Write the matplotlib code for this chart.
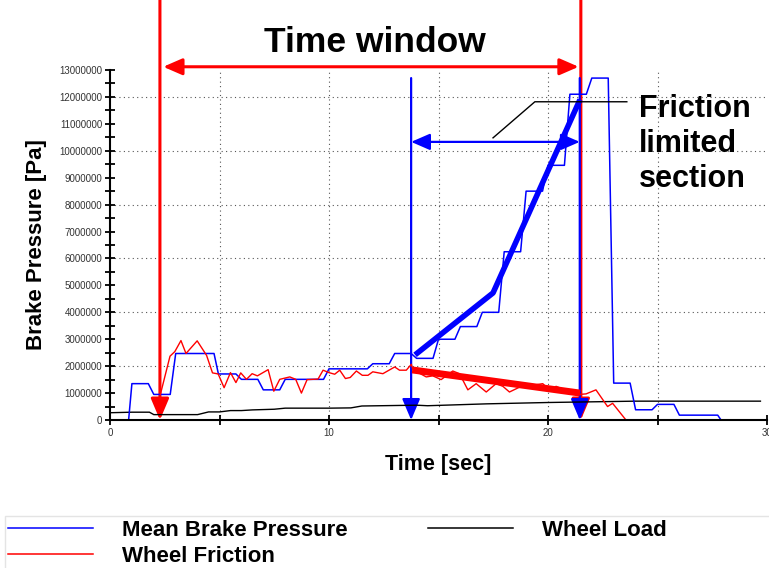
import matplotlib.pyplot as plt
from matplotlib.patches import FancyArrowPatch, Rectangle
from matplotlib.lines import Line2D

plt.rcParams['font.family'] = ['Liberation Sans', 'DejaVu Sans']

# mean brake pressure (Pa, in millions)
t_brake = [0.85, 1.0, 1.75, 2.0, 2.75, 3.0, 4.75, 4.95, 5.75, 6.0, 6.75, 7.0, 7.75, 8.0,
           9.75, 10.0, 11.75, 12.0, 12.75, 13.0, 13.75, 14.0, 14.75, 15.0, 15.75, 16.0,
           16.75, 17.0, 17.75, 18.0, 18.75, 19.0, 19.75, 20.0, 20.75, 21.0, 21.75, 22.0,
           22.75, 23.0, 23.75, 24.0, 24.75, 25.0, 25.75, 26.0, 27.75, 27.9]
p_brake = [0, 1.35, 1.35, 0.95, 0.95, 2.47, 2.47, 1.71, 1.71, 1.51, 1.51, 1.12, 1.12, 1.51,
           1.51, 1.9, 1.9, 2.09, 2.09, 2.47, 2.47, 2.29, 2.29, 3.0, 3.0, 3.47,
           3.47, 4.0, 4.0, 6.25, 6.25, 8.5, 8.5, 9.46, 9.46, 12.1, 12.1, 12.7,
           12.7, 1.37, 1.37, 0.38, 0.38, 0.58, 0.58, 0.18, 0.18, 0]

# wheel friction
t_fric = [2.3, 2.74, 2.96, 3.24, 3.47, 3.98, 4.41, 4.68, 4.94, 5.21, 5.5, 5.75, 5.97, 6.23,
          6.49, 6.73, 7.22, 7.48, 7.75, 8.21, 8.48, 8.74, 9.0, 9.5, 9.73, 10.0, 10.26,
          10.49, 10.75, 10.97, 11.25, 11.52, 11.78, 12.0, 12.46, 13.0, 13.22, 13.53,
          13.76, 13.83, 14.44, 14.74, 15.12, 15.65, 15.96, 16.34, 16.72, 17.18, 17.63,
          17.94, 18.24, 18.7, 19.3, 19.76, 20.06, 20.37, 20.83, 21.43, 21.74, 22.19,
          22.72, 22.95, 23.56]
p_fric = [0.95, 2.37, 2.54, 2.95, 2.47, 2.94, 2.4, 1.75, 1.71, 1.2, 1.76, 1.39, 1.75, 1.51,
          1.72, 1.64, 1.87, 1.07, 1.51, 1.6, 1.51, 1.0, 1.5, 1.52, 1.85, 1.76, 1.7,
          1.85, 1.54, 1.58, 1.82, 1.66, 1.66, 1.79, 1.72, 1.97, 1.85, 1.85,
          2.07, 1.87, 1.6, 1.64, 1.5, 1.82, 1.72, 1.12, 1.35, 1.04, 1.35,
          1.25, 1.04, 1.22, 1.29, 1.35, 1.12, 1.25, 1.1, 0.95, 0.97, 1.12,
          0.5, 0.62, 0.0]

# wheel load
t_load = [0, 1.0, 1.8, 2.0, 4.0, 4.5, 5.0, 5.5, 6.0, 6.5, 7.5, 8.0, 10.0, 11.0, 11.5,
          14.0, 14.5, 17.2, 20.0, 24.0, 29.7]
p_load = [0.27, 0.29, 0.29, 0.2, 0.2, 0.3, 0.3, 0.35, 0.35, 0.375, 0.4, 0.44, 0.44, 0.45,
          0.52, 0.55, 0.53, 0.6, 0.65, 0.7, 0.7]

# fitted trends inside friction limited section
t_fit_brake = [13.93, 17.49, 21.46]
p_fit_brake = [2.42, 4.72, 11.9]
t_fit_fric = [13.8, 21.46]
p_fit_fric = [1.86, 1.0]

t_win = [2.28, 21.5]
t_sec = [13.75, 21.45]

M = 1e6

fig = plt.figure(figsize=(7.69, 5.68), dpi=100)
ax = fig.add_axes([110 / 769, 148 / 568, 657 / 769, 350 / 568])

ax.plot(t_load, [v * M for v in p_load], color='black', lw=1.0)
ax.plot(t_brake, [v * M for v in p_brake], color='#0000ff', lw=1.1)
ax.plot(t_fric, [v * M for v in p_fric], color='#ff0000', lw=1.0)
ax.plot(t_fit_brake, [v * M for v in p_fit_brake], color='#0000ff', lw=4.0,
        solid_capstyle='butt')
ax.plot(t_fit_fric, [v * M for v in p_fit_fric], color='#ff0000', lw=5.0,
        solid_capstyle='butt')

ax.set_xlim(0, 30)
ax.set_ylim(0, 13 * M)
ax.set_xticks([0, 5, 10, 15, 20, 25, 30])
ax.set_xticklabels(['0', '', '10', '', '20', '', '30'])
ax.set_yticks([i * M for i in range(14)])
ax.set_yticklabels([str(i * 1000000) for i in range(14)])
ax.set_yticks([(i + 0.5) * M for i in range(13)], minor=True)
ax.tick_params(axis='both', which='both', direction='inout', length=7, width=1.3,
               labelsize=7, labelcolor='#333333', pad=2)
ax.tick_params(axis='x', pad=2)
for s in ['top', 'right']:
    ax.spines[s].set_visible(False)
for s in ['left', 'bottom']:
    ax.spines[s].set_linewidth(1.5)

for x in [5, 10, 15, 20, 25]:
    ax.axvline(x, color='#555555', lw=0.8, ls=(0, (1, 3)), zorder=0)
for y in range(2, 13, 2):
    ax.axhline(y * M, color='#555555', lw=0.8, ls=(0, (1, 3)), zorder=0)

ax.set_xlabel('Time [sec]', fontsize=15.5, fontweight='bold', labelpad=12)
ax.set_ylabel('Brake Pressure [Pa]', fontsize=16, fontweight='bold', labelpad=9)


def arrow(p0, p1, color, lw, style):
    a = FancyArrowPatch(p0, p1, arrowstyle=style, color=color, lw=lw,
                        mutation_scale=10, shrinkA=0, shrinkB=0, clip_on=False,
                        transform=ax.transData)
    ax.add_patch(a)


head = '-|>,head_length=1.3,head_width=0.55'
dbl = '<|-|>,head_length=1.15,head_width=0.5'

# time window (red)
arrow((t_win[0], 15.7 * M), (t_win[0], 0), 'red', 2.2, head)
arrow((t_win[1], 15.7 * M), (t_win[1], 0), 'red', 2.2, head)
arrow((t_win[0] + 0.15, 13.12 * M), (t_win[1] - 0.1, 13.12 * M), 'red', 2.2, dbl)

# friction limited section (blue)
arrow((t_sec[0], 12.7 * M), (t_sec[0], 0), '#0000ff', 1.6, head)
arrow((t_sec[1], 12.7 * M), (t_sec[1], 0), '#0000ff', 1.6, head)
arrow((t_sec[0], 10.33 * M), (t_sec[1], 10.33 * M), '#0000ff', 1.6, dbl)

ax.plot([17.49, 19.4, 23.6], [10.48 * M, 11.82 * M, 11.82 * M], color='black', lw=1.0,
        clip_on=False)
ax.text(24.15, 12.12 * M, 'Friction\nlimited\nsection', fontsize=22, fontweight='bold',
        va='top', ha='left', linespacing=1.22)

fig.text(375 / 769, 1 - 42 / 568, 'Time window', fontsize=25.5, fontweight='bold',
         ha='center', va='center')

# legend box along the bottom edge
fig.patches.append(Rectangle((5 / 769, -0.05), 1.0, (568 - 516) / 568 + 0.05,
                             transform=fig.transFigure, facecolor='none',
                             edgecolor='#e4e4e4', lw=1.0))
handles = [Line2D([], [], color='#0000ff', lw=1.1),
           Line2D([], [], color='#ff0000', lw=1.1),
           Line2D([], [], color='black', lw=1.1)]
labels = ['Mean Brake Pressure', 'Wheel Friction', 'Wheel Load']
leg = fig.legend(handles, labels, ncol=2, loc='upper left',
                 bbox_to_anchor=(8 / 769, 1 - 520 / 568), prop={'weight': 'bold', 'size': 16},
                 handlelength=3.83, handletextpad=1.3, columnspacing=3.6,
                 labelspacing=0.22, borderpad=0, frameon=False, borderaxespad=0)

fig.savefig('out.png', dpi=100)
